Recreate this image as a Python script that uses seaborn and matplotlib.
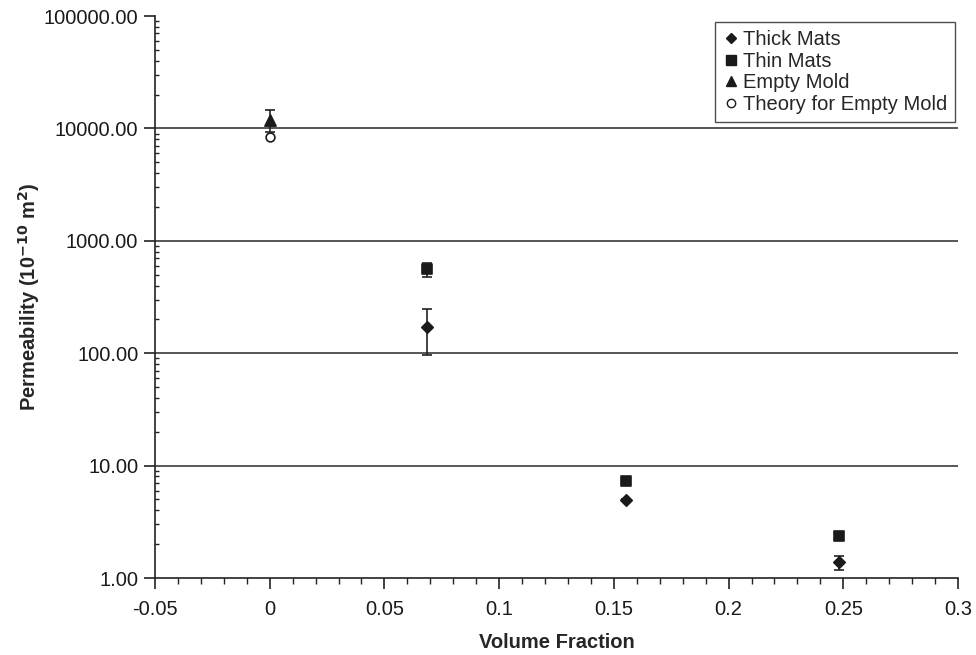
import matplotlib
matplotlib.use("Agg")
import matplotlib.pyplot as plt
import seaborn as sns
import numpy as np
import pandas as pd
from matplotlib.ticker import FuncFormatter, FixedLocator, MultipleLocator, LogLocator, NullFormatter
from matplotlib.lines import Line2D

sns.set_style("ticks")
plt.rcParams['font.family'] = ['Liberation Sans', 'DejaVu Sans']

# Data
thick_x = [0.0686, 0.1555, 0.2483]
thick_y = [172, 4.94, 1.38]
thick_lo = [96, 4.82, 1.18]
thick_hi = [246, 5.06, 1.57]

thin_x = [0.0686, 0.1555, 0.2483]
thin_y = [561, 7.34, 2.36]
thin_lo = [479, 7.34, 2.36]
thin_hi = [638, 7.34, 2.36]

empty_x = [0.0]
empty_y = [11900]
empty_lo = [9300]
empty_hi = [14600]

theory_x = [0.0]
theory_y = [8440]

series = ["Thick Mats", "Thin Mats", "Empty Mold", "Theory for Empty Mold"]

rows = []
for nm, xs, ys in [(series[0], thick_x, thick_y), (series[1], thin_x, thin_y),
                   (series[2], empty_x, empty_y), (series[3], theory_x, theory_y)]:
    for a, b in zip(xs, ys):
        rows.append({"Volume Fraction": a, "Permeability": b, "Series": nm})
df = pd.DataFrame(rows)

fig = plt.figure(figsize=(9.76, 6.55), dpi=100)
ax = fig.add_axes([155/976, 1-578/655, (958-155)/976, (578-16)/655])

ax.set_yscale("log")
ax.set_ylim(1, 100000)
ax.set_xlim(-0.05, 0.3)

# gridlines
for v in [10, 100, 1000, 10000]:
    ax.axhline(v, color="#3a3a3a", lw=1.2, zorder=0)

# error bars
def err(xs, ys, lo, hi):
    ys = np.array(ys, float); lo = np.array(lo, float); hi = np.array(hi, float)
    ax.errorbar(xs, ys, yerr=[ys - lo, hi - ys], fmt="none", ecolor="#222222",
                elinewidth=1.2, capsize=3.6, capthick=1.2, zorder=2)

err(thick_x, thick_y, thick_lo, thick_hi)
err(thin_x[:1], thin_y[:1], thin_lo[:1], thin_hi[:1])
err(empty_x, empty_y, empty_lo, empty_hi)

styles = {
    "Thick Mats": dict(marker="D", s=34, color="#1a1a1a", edgecolor="#1a1a1a"),
    "Thin Mats": dict(marker="s", s=55, color="#1a1a1a", edgecolor="#1a1a1a"),
    "Empty Mold": dict(marker="^", s=65, color="#1a1a1a", edgecolor="#1a1a1a"),
    "Theory for Empty Mold": dict(marker="o", s=40, color="white", edgecolor="#1a1a1a"),
}
for nm in series:
    sub = df[df["Series"] == nm]
    st = styles[nm]
    sns.scatterplot(data=sub, x="Volume Fraction", y="Permeability", ax=ax,
                    marker=st["marker"], s=st["s"], color=st["color"],
                    edgecolor=st["edgecolor"], linewidth=1.2, zorder=3, label=nm)

# legend
handles = [
    Line2D([], [], ls="none", marker="D", ms=5, color="#1a1a1a"),
    Line2D([], [], ls="none", marker="s", ms=6.5, color="#1a1a1a"),
    Line2D([], [], ls="none", marker="^", ms=7, color="#1a1a1a"),
    Line2D([], [], ls="none", marker="o", ms=6, mfc="white", mec="#1a1a1a", mew=1),
]
leg = ax.legend(handles, series, loc="upper right", bbox_to_anchor=(0.9965, 0.989),
                fontsize=14.5, frameon=True, fancybox=False, edgecolor="#222222",
                handlelength=0.8, handletextpad=0.2, borderpad=0.4, labelspacing=0.13,
                borderaxespad=0.0)
leg.get_frame().set_linewidth(1.0)

# axes styling
for side in ["top", "right"]:
    ax.spines[side].set_visible(False)
for side in ["left", "bottom"]:
    ax.spines[side].set_color("#222222")
    ax.spines[side].set_linewidth(1.2)

ax.yaxis.set_major_locator(FixedLocator([1, 10, 100, 1000, 10000, 100000]))
ax.yaxis.set_minor_locator(LogLocator(base=10, subs=np.arange(2, 10), numticks=20))
ax.yaxis.set_minor_formatter(NullFormatter())
ax.yaxis.set_major_formatter(FuncFormatter(lambda v, p: f"{v:.2f}"))
ax.xaxis.set_major_locator(MultipleLocator(0.05))
ax.xaxis.set_minor_locator(MultipleLocator(0.01))
ax.xaxis.set_major_formatter(FuncFormatter(lambda v, p: f"{round(v, 2):g}"))

ax.tick_params(bottom=True, left=True, top=False, right=False, which="both")
ax.tick_params(axis="both", which="major", direction="out", length=8, width=1.2,
               color="#222222", labelsize=14.5, labelcolor="#1a1a1a")
ax.tick_params(axis="x", which="minor", direction="out", length=4, width=1.0, color="#222222")
ax.tick_params(axis="y", which="minor", direction="in", length=3, width=1.0, color="#222222")
ax.tick_params(axis="x", which="major", pad=8)
ax.tick_params(axis="y", which="major", pad=4)

ax.set_xlabel("Volume Fraction", fontsize=14.5, fontweight="bold", labelpad=10)
ax.set_ylabel("Permeability (10$^{\\mathbf{-10}}$ m$^{\\mathbf{2}}$)", fontsize=14.5,
              fontweight="bold", labelpad=1)

fig.savefig("out.png", dpi=100)
